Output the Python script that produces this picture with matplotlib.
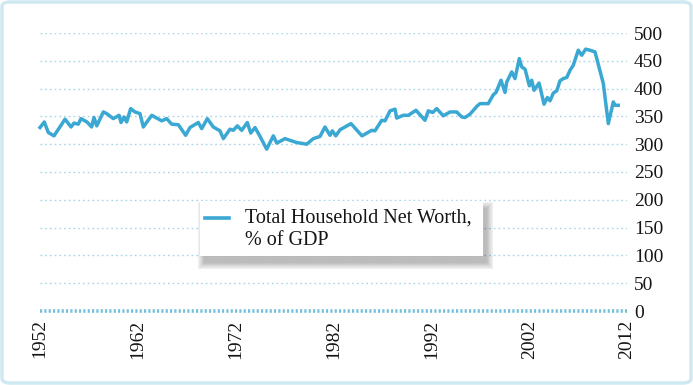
"""
Total household net worth as % of GDP, 1952-2011 (line chart, right-hand axis)
"""
import numpy as np
import matplotlib
matplotlib.use("Agg")
import matplotlib.pyplot as plt
from matplotlib.patches import FancyBboxPatch, Rectangle
from matplotlib.lines import Line2D

plt.rcParams["font.family"] = ["Liberation Serif", "DejaVu Serif"]

# ---- data ----
years = [
    1952.0, 1952.44, 1952.85, 1953.43, 1954.56, 1955.17, 1955.48, 1955.91,
    1956.19, 1956.80, 1957.28, 1957.52, 1957.80, 1958.47, 1958.82, 1959.49,
    1960.08, 1960.28, 1960.59, 1960.86, 1961.27, 1961.71, 1962.22, 1962.56,
    1963.42, 1964.44, 1964.95, 1965.46, 1966.14, 1966.89, 1967.33, 1968.18,
    1968.53, 1969.10, 1969.71, 1970.40, 1970.74, 1971.42, 1971.76, 1972.17,
    1972.62, 1973.19, 1973.54, 1973.98, 1974.49, 1975.17, 1975.85, 1976.20,
    1977.04, 1978.24, 1979.26, 1979.94, 1980.62, 1981.13, 1981.64, 1981.88,
    1982.23, 1982.67, 1983.79, 1984.91, 1985.91, 1986.24, 1986.93, 1987.27,
    1987.78, 1988.29, 1988.46, 1989.14, 1989.65, 1990.43, 1991.35, 1991.69,
    1992.14, 1992.55, 1993.22, 1993.91, 1994.59, 1995.11, 1995.44, 1995.95,
    1996.70, 1996.98, 1997.82, 1998.34, 1998.61, 1999.12, 1999.53, 1999.71,
    2000.22, 2000.55, 2000.99, 2001.24, 2001.58, 2002.02, 2002.26, 2002.50,
    2003.01, 2003.52, 2003.86, 2004.13, 2004.47, 2004.82, 2005.15, 2005.49,
    2005.84, 2006.18, 2006.51, 2007.02, 2007.37, 2007.78, 2008.22, 2008.73,
    2009.58, 2010.09, 2010.60, 2010.78, 2011.11,
]
net_worth = [
    330, 340, 321, 315, 345, 331, 338, 336,
    346, 340, 331, 348, 333, 358, 355, 346,
    352, 339, 349, 340, 364, 358, 355, 331,
    352, 342, 346, 336, 335, 316, 330, 339,
    328, 346, 331, 324, 310, 327, 325, 333,
    325, 339, 320, 330, 314, 291, 315, 302,
    310, 303, 300, 310, 314, 331, 316, 324,
    315, 326, 337, 315, 325, 324, 343, 342,
    360, 363, 347, 352, 352, 361, 343, 360,
    357, 364, 351, 358, 358, 349, 348, 354,
    369, 373, 373, 389, 393, 415, 393, 412,
    430, 418, 454, 439, 435, 405, 415, 397,
    410, 372, 384, 378, 392, 396, 414, 418,
    420, 433, 442, 469, 460, 471, 469, 466,
    409, 337, 376, 370, 370,
]
x_ticks = [1952, 1962, 1972, 1982, 1992, 2002, 2012]
y_ticks = [0, 50, 100, 150, 200, 250, 300, 350, 400, 450, 500]
series_label = "Total Household Net Worth,\n% of GDP"

LINE_C = "#3aa8d2"
GRID_C = "#a9d5e6"
ZERO_C = "#74c0dc"
TEXT_C = "#151515"

W, H = 693, 385
fig = plt.figure(figsize=(W / 100, H / 100), dpi=100)
fig.patch.set_facecolor("white")


def fx(px):
    return px / W


def fy(py):
    # pixel measured from top -> figure fraction
    return 1 - py / H


# rounded light-blue frame round the whole picture (behind everything)
fig.patches.append(FancyBboxPatch(
    (fx(2), fy(383)), fx(689), 381 / H,
    boxstyle="round,pad=0,rounding_size=0.012",
    transform=fig.transFigure, fc="white", ec="#cfe9f0", lw=2.5, zorder=-5))

ax = fig.add_axes([fx(40), fy(311), fx(627 - 40), (311 - 33) / H])
ax.set_facecolor("none")
ax.set_xlim(1952, 2012)
ax.set_ylim(0, 500)

for v in y_ticks[1:]:
    ax.axhline(v, color=GRID_C, lw=1.0, ls=(0, (1.2, 2.2)), zorder=1)
ax.axhline(0, color=ZERO_C, lw=2.6, ls=(0, (0.6, 0.6)), zorder=1, clip_on=False)

ax.plot(years, net_worth, color=LINE_C, lw=2.5, solid_joinstyle="round",
        zorder=3, clip_on=False)

for s in ax.spines.values():
    s.set_visible(False)
ax.yaxis.tick_right()
ax.set_yticks(y_ticks)
ax.set_yticklabels([str(v) for v in y_ticks])
ax.set_xticks(x_ticks)
ax.set_xticklabels([str(v) for v in x_ticks], rotation=90)
ax.tick_params(axis="y", length=0, pad=5, labelsize=14, labelcolor=TEXT_C)
ax.tick_params(axis="x", length=0, pad=6, labelsize=14, labelcolor=TEXT_C)
for lab in ax.get_yticklabels():
    lab.set_verticalalignment("center_baseline")

# legend box drawn by hand so the key sits on the first text line
bx0, bx1, by0, by1 = 200, 483, 201, 256
for i in range(9):
    g = i * 0.8
    fig.patches.append(Rectangle(
        (fx(bx0 + 4 - g), fy(by1 + 7 + g)),
        fx(bx1 - bx0 + 2 * g), (by1 - by0 + 2 * g) / H,
        transform=fig.transFigure, fc="#000000", ec="none", alpha=0.03, zorder=4))
fig.patches.append(Rectangle(
    (fx(bx0), fy(by1)), fx(bx1 - bx0), (by1 - by0) / H,
    transform=fig.transFigure, fc="white", ec="none", zorder=5))
fig.lines.append(Line2D([fx(205), fx(229)], [fy(217.5), fy(217.5)],
                        transform=fig.transFigure, color=LINE_C, lw=2.6, zorder=6))
for k, line in enumerate(series_label.split("\n")):
    fig.text(fx(245), fy(222.5 + 22.5 * k), line, ha="left", va="baseline",
             fontsize=14.5, color=TEXT_C, zorder=6)

fig.savefig("out.png", dpi=100)
